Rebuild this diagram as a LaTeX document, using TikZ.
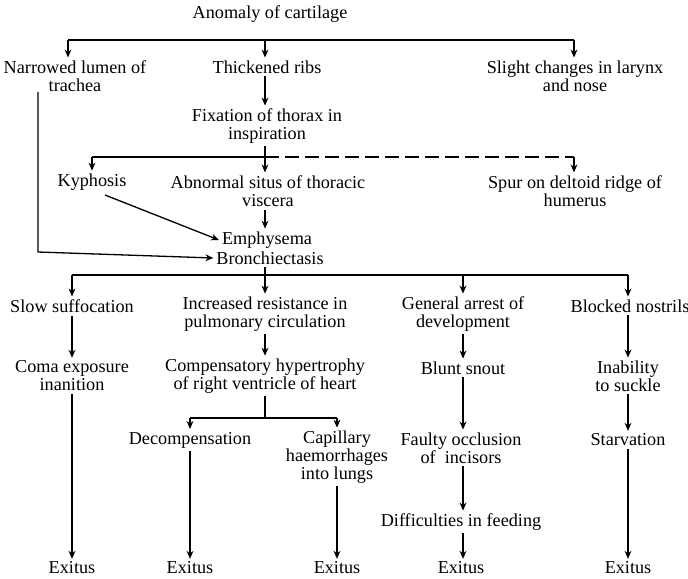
\documentclass[tikz,border=0pt]{standalone}
\usepackage{fontspec}
\setmainfont{Liberation Serif}
\usetikzlibrary{arrows.meta}
\begin{document}
\begin{tikzpicture}[x=0.5pt,y=-0.5pt,
  lbl/.style={inner sep=1.2pt,align=center,font=\fontsize{9.1}{9}\selectfont},
  arr/.style={-{Stealth[length=4pt,width=3.4pt]}},
  every path/.style={line width=0.65pt}]
\useasboundingbox (0,0) rectangle (688,578);
% nodes
\node[lbl] (anom) at (270,14) {Anomaly of cartilage};
\node[lbl] (narrow) at (75,76) {Narrowed lumen of\\trachea};
\node[lbl] (thick) at (267,67) {Thickened ribs};
\node[lbl] (slight) at (575,76) {Slight changes in larynx\\and nose};
\node[lbl] (fix) at (267,126) {Fixation of thorax in\\inspiration};
\node[lbl] (kyph) at (92,182) {Kyphosis};
\node[lbl] (abn) at (268,191) {Abnormal situs of thoracic\\viscera};
\node[lbl] (spur) at (575,191) {Spur on deltoid ridge of\\humerus};
\node[lbl] (emph) at (267,240) {Emphysema};
\node[lbl] (bron) at (270,258) {Bronchiectasis};
\node[lbl] (slow) at (72,306) {Slow suffocation};
\node[lbl] (incr) at (265,314) {Increased resistance in\\pulmonary circulation};
\node[lbl] (gen) at (463,314) {General arrest of\\development};
\node[lbl] (block) at (630,306) {Blocked nostrils};
\node[lbl] (coma) at (72,376) {Coma exposure\\inanition};
\node[lbl] (comp) at (265,376) {Compensatory hypertrophy\\of right ventricle of heart};
\node[lbl] (blunt) at (463,368) {Blunt snout};
\node[lbl] (inab) at (628,376) {Inability\\to suckle};
\node[lbl] (decomp) at (190,440) {Decompensation};
\node[lbl] (cap) at (337,457) {Capillary\\haemorrhages\\into lungs};
\node[lbl] (faulty) at (461,448) {Faulty occlusion\\of\ \ incisors};
\node[lbl] (diff) at (461,522) {Difficulties in feeding};
\node[lbl] (star) at (628,440) {Starvation};
\node[lbl] (ex1) at (72,568) {Exitus};
\node[lbl] (ex2) at (190,568) {Exitus};
\node[lbl] (ex3) at (337,568) {Exitus};
\node[lbl] (ex4) at (461,568) {Exitus};
\node[lbl] (ex5) at (628,568) {Exitus};
% level 1
\coordinate (t1) at (68,40);
\coordinate (t2) at (265,40);
\coordinate (t3) at (574,40);
\draw (t1) -- (t3);
\draw[arr] (t1) -- (t1 |- narrow.north);
\draw[arr] (t2) -- (t2 |- thick.north);
\draw[arr] (t3) -- (t3 |- slight.north);
\draw[arr] (thick.south -| t2) -- (t2 |- fix.north);
% level 2
\coordinate (k1) at (92,157);
\coordinate (k2) at (265,157);
\coordinate (k3) at (574,157);
\draw (fix.south -| k2) -- (k2);
\draw (k1) -- (k2);
\draw[dashed,dash pattern=on 7pt off 3pt] (k2) -- (k3);
\draw[arr] (k1) -- (k1 |- kyph.north);
\draw[arr] (k2) -- (k2 |- abn.north);
\draw[arr,dashed,dash pattern=on 7pt off 3pt] (k3) -- (k3 |- spur.north);
% to emphysema
\draw[arr] (abn.south -| k2) -- (k2 |- emph.north);
\coordinate (ks) at (105,195);
\draw[arr] (ks) -- (emph.west);
\coordinate (n1) at (38,92);
\coordinate (n2) at (38,252);
\draw[arr] (n1) -- (n2) -- (bron.west);
% level 3
\coordinate (b1) at (72,275);
\coordinate (b2) at (265,275);
\coordinate (b3) at (463,275);
\coordinate (b4) at (628,275);
\draw (bron.south -| b2) -- (b2);
\draw (b1) -- (b4);
\draw[arr] (b1) -- (b1 |- slow.north);
\draw[arr] (b2) -- (b2 |- incr.north);
\draw[arr] (b3) -- (b3 |- gen.north);
\draw[arr] (b4) -- (b4 |- block.north);
% columns
\draw[arr] (slow) -- (coma);
\draw[arr] (incr) -- (comp);
\draw[arr] (gen) -- (blunt);
\draw[arr] (block.south -| b4) -- (b4 |- inab.north);
\draw[arr] (coma) -- (ex1);
\coordinate (c1) at (190,418);
\coordinate (c2) at (265,418);
\coordinate (c3) at (337,418);
\draw (comp) -- (c2);
\draw (c1) -- (c3);
\draw[arr] (c1) -- (decomp);
\draw[arr] (c3) -- (c3 |- cap.north);
\draw[arr] (decomp) -- (ex2);
\draw[arr] (cap) -- (ex3);
\draw[arr] (blunt.south -| b3) -- (b3 |- faulty.north);
\draw[arr] (faulty.south -| b3) -- (b3 |- diff.north);
\draw[arr] (diff.south -| b3) -- (b3 |- ex4.north);
\draw[arr] (inab) -- (star);
\draw[arr] (star) -- (ex5);
\end{tikzpicture}
\end{document}
